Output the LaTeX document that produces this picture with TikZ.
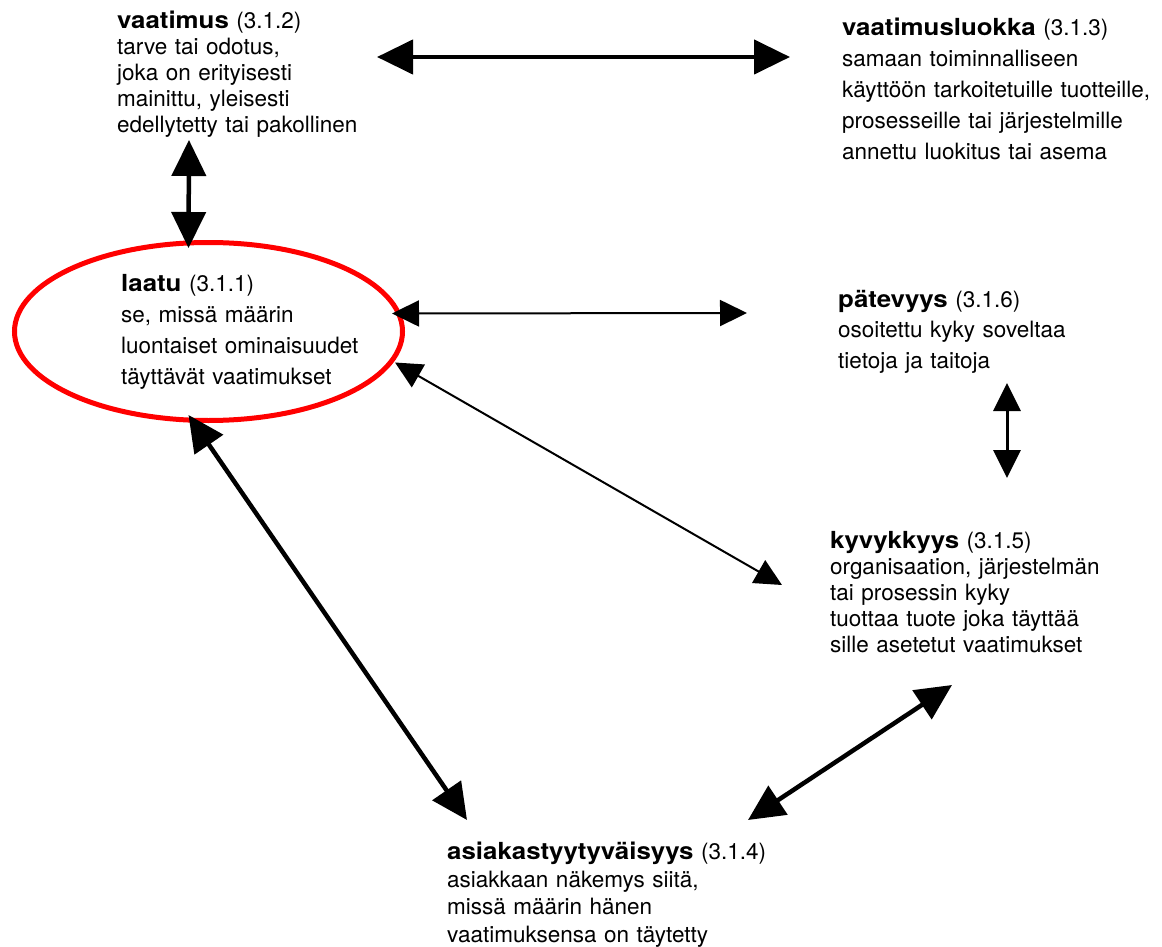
\documentclass[tikz,border=0pt]{standalone}
\usepackage{fontspec}
\setmainfont{TeX Gyre Heros}
\newfontfamily\otsikkofont[FakeStretch=1.1]{TeX Gyre Heros}
\newcommand{\otsikko}[1]{{\otsikkofont\bfseries\fontsize{23.5}{26}\selectfont #1}}
\usetikzlibrary{arrows.meta,shapes.geometric,calc}
\tikzset{
	teksti/.style={anchor=north west, inner sep=0pt, align=left, text width=340pt, font=\fontsize{22.5}{#1}\selectfont},
	isonuoli/.style={line width=4.5pt, arrows={Triangle[length=36pt,width=34pt]-Triangle[length=36pt,width=34pt]}},
	keskinuoli/.style={line width=3pt, arrows={Triangle[length=28pt,width=27pt]-Triangle[length=28pt,width=27pt]}},
	ohutnuoli/.style={line width=2pt, arrows={Triangle[length=27pt,width=26pt]-Triangle[length=27pt,width=26pt]}}
}
\begin{document}
\begin{tikzpicture}[x=1pt, y=-1pt]
	\useasboundingbox (0,0) rectangle (1162,947);
	\node[teksti=26] (vaatimus) at (117,11) {\otsikko{vaatimus} (3.1.2)\\tarve tai odotus,\\joka on erityisesti\\mainittu, yleisesti\\edellytetty tai pakollinen};
	\node[teksti=31] (luokka) at (842,18) {\otsikko{vaatimusluokka} (3.1.3)\\samaan toiminnalliseen\\käyttöön tarkoitetuille tuotteille,\\prosesseille tai järjestelmille\\annettu luokitus tai asema};
	\node[ellipse, draw=red, line width=5pt, minimum width=388pt, minimum height=178pt, inner sep=0pt] (laatu) at (208.5,331.5) {};
	\node[teksti=31] (laatuteksti) at (121,274) {\otsikko{laatu} (3.1.1)\\se, missä määrin\\luontaiset ominaisuudet\\täyttävät vaatimukset};
	\node[teksti=30.5] (patevyys) at (838,290) {\otsikko{pätevyys} (3.1.6)\\osoitettu kyky soveltaa\\tietoja ja taitoja};
	\node[teksti=26] (kyvykkyys) at (830,531) {\otsikko{kyvykkyys} (3.1.5)\\organisaation, järjestelmän\\tai prosessin kyky\\tuottaa tuote joka täyttää\\sille asetetut vaatimukset};
	\node[teksti=27.5] (tyytyvaisyys) at (447,842) {\otsikko{asiakastyytyväisyys} (3.1.4)\\asiakkaan näkemys siitä,\\missä määrin hänen\\vaatimuksensa on täytetty};
	%nuolet
	\draw[isonuoli] ($(vaatimus.north west)+(260,46)$) -- ($(luokka.north west)+(-52,39)$);
	\draw[isonuoli] ($(vaatimus.north west)+(72,129)$) -- ($(laatu.north)+(-20,8)$);
	\draw[ohutnuoli] ($(laatu.east)+(-13,-18)$) -- ($(patevyys.north west)+(-91,23)$);
	\draw[ohutnuoli] ($(laatu.east)+(-10,31)$) -- ($(kyvykkyys.north west)+(-48,54)$);
	\draw[keskinuoli] ($(patevyys.north west)+(169,93)$) -- ($(kyvykkyys.north west)+(177,-53)$);
	\draw[isonuoli] ($(laatu.south)+(-20,-8)$) -- ($(tyytyvaisyys.north west)+(20,-22)$);
	\draw[isonuoli] ($(kyvykkyys.north west)+(122,154)$) -- ($(tyytyvaisyys.north west)+(301,-22)$);
\end{tikzpicture}
\end{document}
